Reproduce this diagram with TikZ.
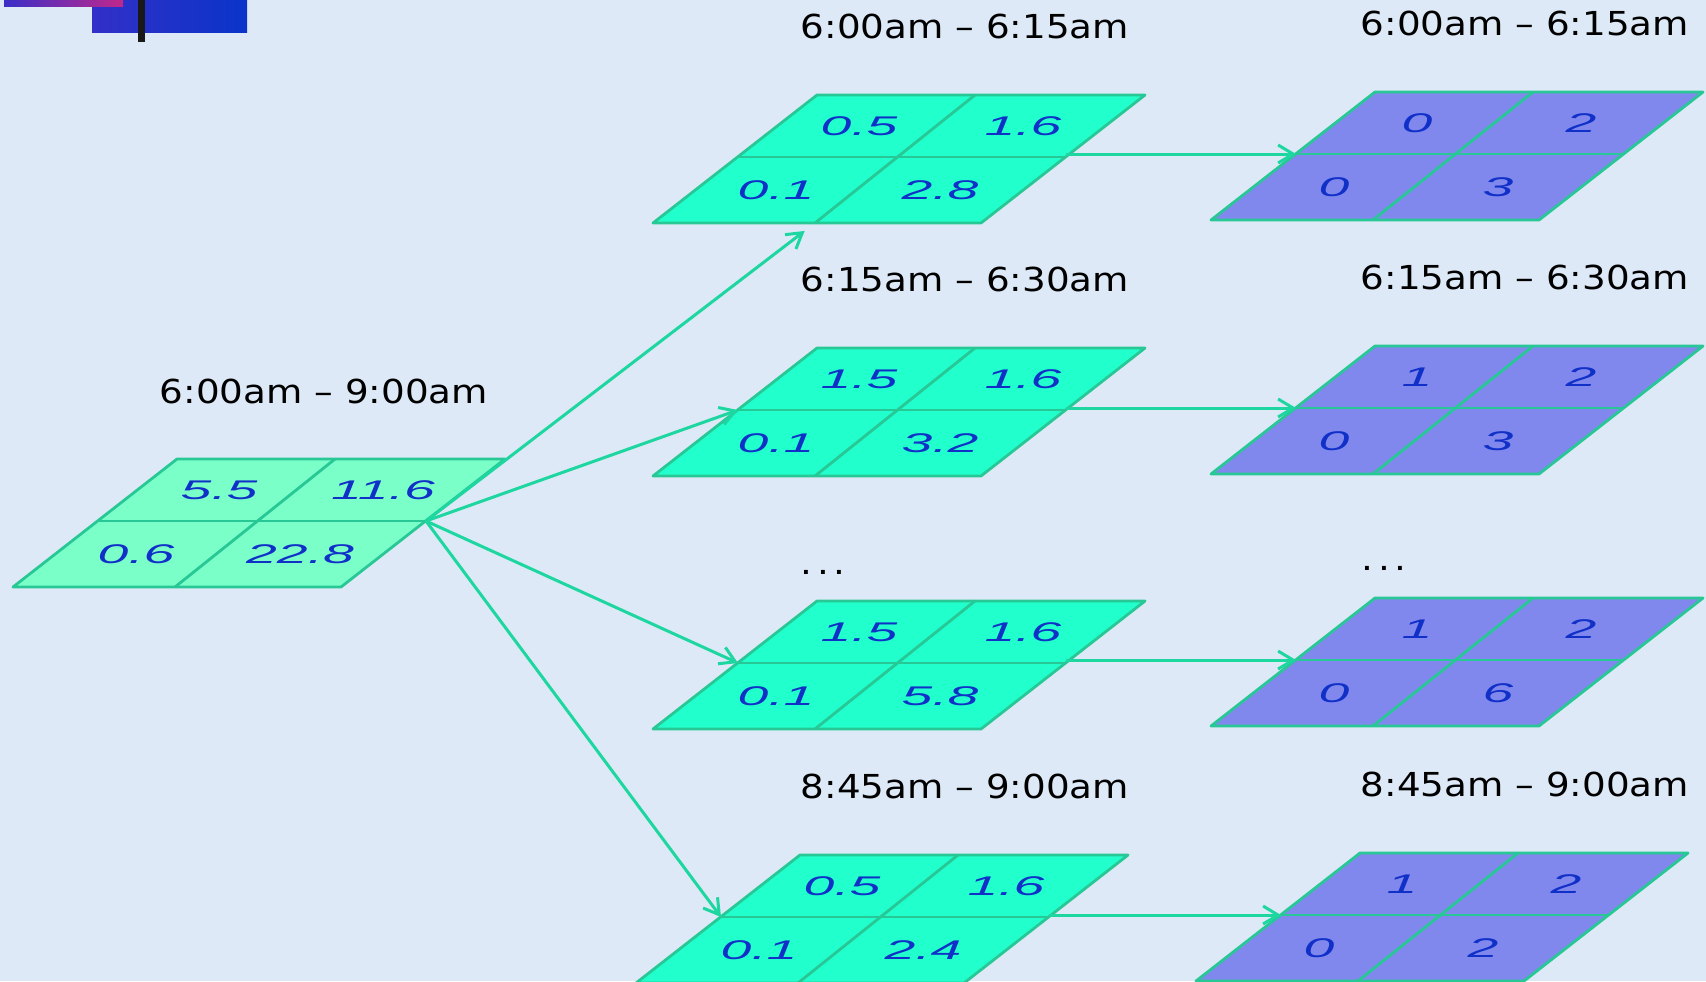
\documentclass[tikz,border=0pt]{standalone}
\usepackage{fontspec}
\setmainfont{DejaVu Sans}[FakeStretch=1.13]
\newfontfamily\cellfont{Liberation Sans}[FakeStretch=2.05]
\usetikzlibrary{arrows.meta}

\definecolor{slidebg}{RGB}{221,233,246}
\definecolor{leftcell}{RGB}{122,255,200}
\definecolor{tilecell}{RGB}{32,255,204}
\definecolor{countcell}{RGB}{128,136,238}
\definecolor{tileedge}{RGB}{40,200,150}
\definecolor{flowgreen}{RGB}{30,215,160}
\definecolor{numblue}{RGB}{16,48,200}

\tikzset{
  gridline/.style={draw=tileedge, line width=1.4pt, line join=round},
  cellnum/.style={font=\cellfont\itshape\fontsize{13.5}{15}\selectfont, text=numblue, inner sep=0pt},
  timelabel/.style={font=\fontsize{16.5}{19}\selectfont, anchor=base, inner sep=0pt},
  flow/.style={draw=flowgreen, line width=1.5pt, -{Straight Barb[length=7.5pt,width=9pt]}},
}

% 2x2 slanted tile: name, top-left corner, fill, four cell values
\def\tilegrid(#1)(#2,#3)[#4]#5#6#7#8{%
  \begin{scope}[shift={(#2,#3)}]
    \fill[#4] (0,0) -- (328,0) -- (164,128) -- (-164,128) -- cycle;
    \draw[gridline] (0,0) -- (328,0) -- (164,128) -- (-164,128) -- cycle;
    \draw[gridline] (-79,62) -- (249,62);
    \draw[gridline] (158,0) -- (-2,128);
    \node[cellnum] (#1-a) at (42,31) {#5};
    \node[cellnum] (#1-b) at (206,31) {#6};
    \node[cellnum] (#1-c) at (-41,95) {#7};
    \node[cellnum] (#1-d) at (123,95) {#8};
    \coordinate (#1-ml) at (-79,62);
    \coordinate (#1-mr) at (249,62);
    \coordinate (#1-bd) at (-2,128);
  \end{scope}}
\def\slicedots{.\hspace{2.4pt}.\hspace{2.4pt}.}

\begin{document}
\begin{tikzpicture}[x=0.5pt,y=-0.5pt]
  %%%%% START %%%%%

  \fill[slidebg] (0,0) rectangle (1706,981);
  \useasboundingbox (0,0) rectangle (1706,981);

  % corner bars
  \shade[left color={rgb,255:red,50;green,48;blue,200}, right color={rgb,255:red,10;green,52;blue,200}] (92,0) rectangle (247,32);
  \shade[left color={rgb,255:red,58;green,46;blue,200}, right color={rgb,255:red,192;green,40;blue,140}] (4,0) rectangle (123,6);
  \fill[black!90] (138,0) rectangle (145,42);

  % whole interval
  \tilegrid(src)(177,459)[leftcell]{5.5}{11.6}{0.6}{22.8}
  \node[timelabel] (srct) at (324,403) {6:00am – 9:00am};

  % 15 minute slices
  \tilegrid(g1)(817,95)[tilecell]{0.5}{1.6}{0.1}{2.8}
  \tilegrid(g2)(817,348)[tilecell]{1.5}{1.6}{0.1}{3.2}
  \tilegrid(g3)(817,601)[tilecell]{1.5}{1.6}{0.1}{5.8}
  \tilegrid(g4)(800,855)[tilecell]{0.5}{1.6}{0.1}{2.4}

  \node[timelabel] (g1t) at (965,38) {6:00am – 6:15am};
  \node[timelabel] (g2t) at (965,291) {6:15am – 6:30am};
  \node[timelabel] (gdots) at (823,574) {\slicedots};
  \node[timelabel] (g4t) at (965,798) {8:45am – 9:00am};

  % rounded counts
  \tilegrid(p1)(1375,92)[countcell]{0}{2}{0}{3}
  \tilegrid(p2)(1375,346)[countcell]{1}{2}{0}{3}
  \tilegrid(p3)(1375,598)[countcell]{1}{2}{0}{6}
  \tilegrid(p4)(1360,853)[countcell]{1}{2}{0}{2}

  \node[timelabel] (p1t) at (1525,35) {6:00am – 6:15am};
  \node[timelabel] (p2t) at (1525,289) {6:15am – 6:30am};
  \node[timelabel] (pdots) at (1384,570) {\slicedots};
  \node[timelabel] (p4t) at (1525,796) {8:45am – 9:00am};

  % split
  \draw[flow, shorten >=6.5pt] (src-mr) -- (g1-bd);
  \draw[flow] (src-mr) -- (g2-ml);
  \draw[flow] (src-mr) -- (g3-ml);
  \draw[flow] (src-mr) -- (g4-ml);

  % slice -> counts
  \draw[flow] (g1-mr |- p1-ml) -- (p1-ml);
  \draw[flow] (g2-mr |- p2-ml) -- (p2-ml);
  \draw[flow] (g3-mr |- p3-ml) -- (p3-ml);
  \draw[flow] (g4-mr |- p4-ml) -- (p4-ml);

  %%%%% END %%%%%
\end{tikzpicture}
\end{document}
